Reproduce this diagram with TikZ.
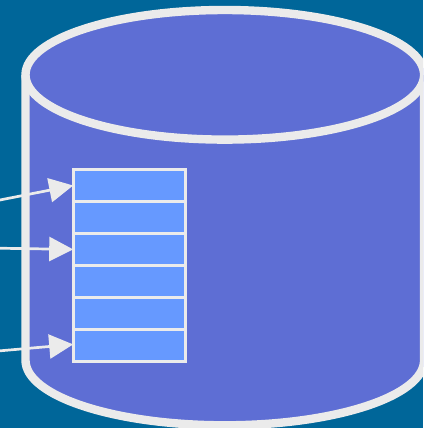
\documentclass[tikz,border=0pt]{standalone}
\usetikzlibrary{arrows.meta}
\definecolor{bgblue}{RGB}{0,102,153}
\definecolor{cylblue}{RGB}{94,110,212}
\definecolor{cellblue}{RGB}{102,153,255}
\definecolor{edgegrey}{RGB}{235,235,235}
\tikzset{
  cylline/.style={draw=edgegrey,line width=8.4pt,fill=cylblue,line join=round},
  cell/.style={draw=edgegrey,fill=cellblue,line width=2.7pt,minimum width=112pt,minimum height=32pt,inner sep=0pt,outer sep=0pt,rectangle},
  pointer/.style={draw=edgegrey,line width=2.7pt,-{Triangle[length=24pt,width=24pt,fill=edgegrey]},shorten >=0pt}
}
\begin{document}
\begin{tikzpicture}[x=1pt,y=-1pt]
\useasboundingbox (0,0) rectangle (423,428);
\clip (0,0) rectangle (423,428);
\fill[bgblue] (0,0) rectangle (423,428);
% cylinder body and lid
\draw[cylline] (25.5,75) -- (25.5,360.3) arc[start angle=180,end angle=360,x radius=199.3,y radius=-65] -- (424.1,75);
\draw[cylline] (224.8,74.8) ellipse[x radius=199.3,y radius=64.8];
% table cells
\node[cell] (c1) at (129.2,185.5) {};
\node[cell] (c2) at (129.2,217.4) {};
\node[cell] (c3) at (129.2,249.4) {};
\node[cell] (c4) at (129.2,281.4) {};
\node[cell] (c5) at (129.2,313.4) {};
\node[cell] (c6) at (129.2,345.4) {};
% free ends
\coordinate (s1) at (-2,200.4);
\coordinate (s2) at (-2,248.2);
\coordinate (s3) at (-2,351);
\draw[pointer] (s1) -- (c1.west);
\draw[pointer] (s2) -- (c3.west);
\draw[pointer] (s3) -- ([yshift=1pt]c6.west);
\end{tikzpicture}
\end{document}
